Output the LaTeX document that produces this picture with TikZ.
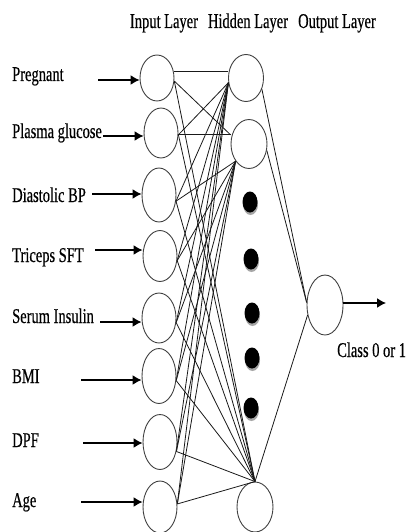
\documentclass[tikz,border=0pt]{standalone}
\usepackage{fontspec}
\newfontfamily\lblfont{Liberation Serif}[FakeStretch=0.69,FakeBold=0.4]
\usetikzlibrary{shapes.geometric,arrows.meta}
\begin{document}
\begin{tikzpicture}[x=1pt,y=-1pt,
  neuron/.style={ellipse,draw=black!75,line width=0.9pt,minimum width=34pt,inner sep=0pt},
  lbl/.style={font=\lblfont\fontsize{21}{24}\selectfont,inner sep=0pt},
  link/.style={draw=black!90,line width=0.8pt},
  inarrow/.style={draw=black,line width=1.4pt,-{Latex[length=9pt,width=10pt]}},
  dotnode/.style={ellipse,fill=black,minimum width=15pt,minimum height=21pt,inner sep=0pt}]
\useasboundingbox (0,0) rectangle (405,532);
% headers
\node[lbl,anchor=base] (hin) at (164,28) {Input Layer};
\node[lbl,anchor=base] (hhid) at (248,28) {Hidden Layer};
\node[lbl,anchor=base] (hout) at (337,28) {Output Layer};
% input neurons
\node[neuron,minimum height=46pt] (i1) at (157,78) {};
\node[neuron,minimum height=50pt] (i2) at (161,133) {};
\node[neuron,minimum height=54pt] (i3) at (159,195) {};
\node[neuron,minimum height=51pt] (i4) at (160,256) {};
\node[neuron,minimum height=50pt] (i5) at (159,318) {};
\node[neuron,minimum height=55pt] (i6) at (159,376) {};
\node[neuron,minimum height=55pt] (i7) at (160,442) {};
\node[neuron,minimum height=52pt] (i8) at (160,507) {};
% hidden neurons
\node[neuron,minimum width=35pt,minimum height=47pt] (h1) at (246,78) {};
\node[neuron,minimum width=36pt,minimum height=49pt] (h2) at (249,144) {};
\node[neuron,minimum width=36pt,minimum height=50pt] (h3) at (255,507) {};
% output neuron
\node[neuron,minimum width=36pt,minimum height=60pt] (o) at (325,305) {};
% dots
\foreach \yy/\xx [count=\k] in {202/250,259/251,313/252,358/252,408/251}{
  \fill[black!35] (\xx+0.5,\yy+2.5) ellipse [x radius=7.5, y radius=10.5];
  \node[dotnode] (d\k) at (\xx,\yy) {};
}
% labels
\node[lbl,anchor=base west] (l1) at (12,81) {Pregnant};
\node[lbl,anchor=base west] (l2) at (12,138) {Plasma glucose};
\node[lbl,anchor=base west] (l3) at (12,202) {Diastolic BP};
\node[lbl,anchor=base west] (l4) at (12,262) {Triceps SFT};
\node[lbl,anchor=base west] (l5) at (12,323) {Serum Insulin};
\node[lbl,anchor=base west] (l6) at (12,383) {BMI};
\node[lbl,anchor=base west] (l7) at (12,447) {DPF};
\node[lbl,anchor=base west] (l8) at (12,507) {Age};
\node[lbl,anchor=base west] (lc) at (337,357) {Class 0 or 1};
% input arrows
\coordinate (a1) at (98,80);
\coordinate (a2) at (103,136);
\coordinate (a3) at (92,194);
\coordinate (a4) at (95,250);
\coordinate (a5) at (100,322);
\coordinate (a6) at (81,380);
\coordinate (a7) at (83,443);
\coordinate (a8) at (81,502);
\foreach \k in {1,...,8} \draw[inarrow] (a\k) -- (a\k -| i\k.west);
% input -> hidden connections
\draw[link] (i1.20) -- (i1.20 -| h1.west);
\coordinate (h2a) at (i2.-6 -| h2.west);
\draw[link] (i2.-6) -- (h2a);
\draw[link] (i1.-10) -- (h2a);
\foreach \p in {i2.-6,i3.-20,i4.-15,i5.-15,i6.-15,i7.-30,i8.10}
  \draw[link] (\p) -- (h1.195);
\foreach \p in {i3.-20,i4.-15,i5.-15,i6.-15,i7.-30,i8.10}
  \draw[link] (\p) -- (h2.232);
\foreach \p in {i1.-10,i2.-6,i3.-20,i4.-15,i5.-15,i6.-15,i7.-30,i8.10}
  \draw[link] (\p) -- (h3.north);
% hidden -> output
\draw[link] (h1.-35) -- (o.172);
\draw[link] (h2.-20) -- (o.172);
\draw[link] (h3.north) -- (o.210);
% output arrow
\coordinate (oa) at (386,303);
\draw[inarrow] (oa -| o.east) -- (oa);
\end{tikzpicture}
\end{document}
